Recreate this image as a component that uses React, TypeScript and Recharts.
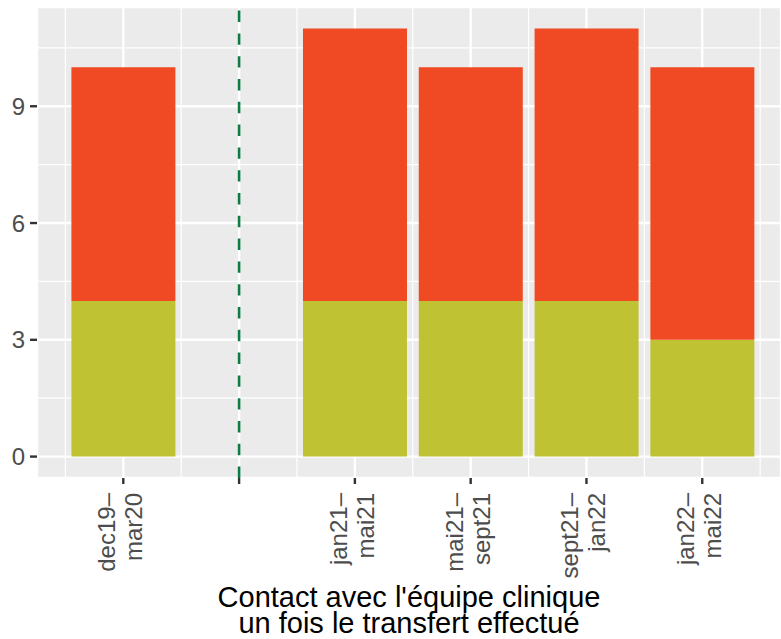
import React from "react";
import { ComposedChart, Bar, XAxis, YAxis, CartesianGrid, ReferenceLine } from "recharts";

const positions = [1, 2, 3, 4, 5, 6];
const periodLabels = ["dec19–\nmar20", "", "jan21–\nmai21", "mai21–\nsept21", "sept21–\njan22", "jan22–\nmai22"];
const lowerValues: (number | null)[] = [4, null, 4, 4, 4, 3];
const upperValues: (number | null)[] = [6, null, 7, 6, 7, 7];
const yTicks = [0, 3, 6, 9];
const yMinor = [1.5, 4.5, 7.5, 10.5];
const xMinor = [0.5, 1.5, 2.5, 3.5, 4.5, 5.5, 6.5];
const dividerAt = 2;
const titleLines = ["Contact avec l'équipe clinique", "un fois le transfert effectué"];

const data = positions.map((x, i) => ({ x, lower: lowerValues[i], upper: upperValues[i] }));

const FONT = "'Liberation Sans', Arial, Helvetica, sans-serif";
const X_DOMAIN: [number, number] = [0.2547, 6.68];
const Y_DOMAIN: [number, number] = [-0.55, 11.55];

const XTick = (props: any) => {
  const { x, y, payload } = props;
  const idx = positions.indexOf(payload.value);
  const text = idx >= 0 ? periodLabels[idx] : "";
  if (!text) return null;
  const lines = text.split("\n");
  const offs = [-8, 19];
  return (
    <text
      x={x}
      y={y}
      transform={`rotate(-90 ${x} ${y})`}
      textAnchor="end"
      fill="#4D4D4D"
      fontSize={24}
      fontFamily={FONT}
    >
      {lines.map((l: string, i: number) => (
        <tspan key={i} x={x} y={y + offs[i]}>
          {l}
        </tspan>
      ))}
    </text>
  );
};

const Title = (props: any) => {
  const vb = props.viewBox || {};
  const cx = vb.x + vb.width / 2;
  return (
    <g>
      {titleLines.map((t, i) => (
        <text
          key={i}
          x={cx}
          y={vb.y + 129 + i * 26}
          textAnchor="middle"
          fill="#000"
          fontSize={29}
          fontFamily={FONT}
        >
          {t}
        </text>
      ))}
    </g>
  );
};

export default function App() {
  return (
    <div style={{ position: "absolute", left: 0, top: 0, width: 781, height: 639, background: "#fff" }}>
      <ComposedChart
        width={781}
        height={639}
        data={data}
        margin={{ top: 7, right: 0, bottom: 0, left: 0 }}
      >
        <CartesianGrid fill="#EBEBEB" stroke="#FFFFFF" strokeWidth={2.4} />
        <CartesianGrid
          xAxisId="minor"
          yAxisId="minor"
          stroke="#FFFFFF"
          strokeWidth={1.2}
        />
        <XAxis
          dataKey="x"
          type="number"
          domain={X_DOMAIN}
          ticks={positions}
          allowDataOverflow
          axisLine={false}
          tickLine={{ stroke: "#333333", strokeWidth: 2.4 }}
          tickSize={6}
          tickMargin={9}
          height={161}
          tick={<XTick />}
          interval={0}
          label={<Title />}
        />
        <XAxis
          xAxisId="minor"
          dataKey="x"
          type="number"
          domain={X_DOMAIN}
          ticks={xMinor}
          allowDataOverflow
          interval={0}
          hide
        />
        <YAxis
          type="number"
          domain={Y_DOMAIN}
          ticks={yTicks}
          allowDataOverflow
          axisLine={false}
          tickLine={{ stroke: "#333333", strokeWidth: 2.4 }}
          tickSize={7}
          tickMargin={5}
          width={37}
          tick={{ fill: "#4D4D4D", fontSize: 24, fontFamily: FONT }}
        />
        <YAxis
          yAxisId="minor"
          type="number"
          domain={Y_DOMAIN}
          ticks={yMinor}
          allowDataOverflow
          interval={0}
          hide
        />
        <Bar dataKey="lower" stackId="a" fill="#BFC232" barSize={104} isAnimationActive={false} />
        <Bar dataKey="upper" stackId="a" fill="#F04A24" barSize={104} isAnimationActive={false} />
        <ReferenceLine x={dividerAt} stroke="#0E7C42" strokeWidth={2.6} strokeDasharray="11.4 11.4" />
      </ComposedChart>
    </div>
  );
}
